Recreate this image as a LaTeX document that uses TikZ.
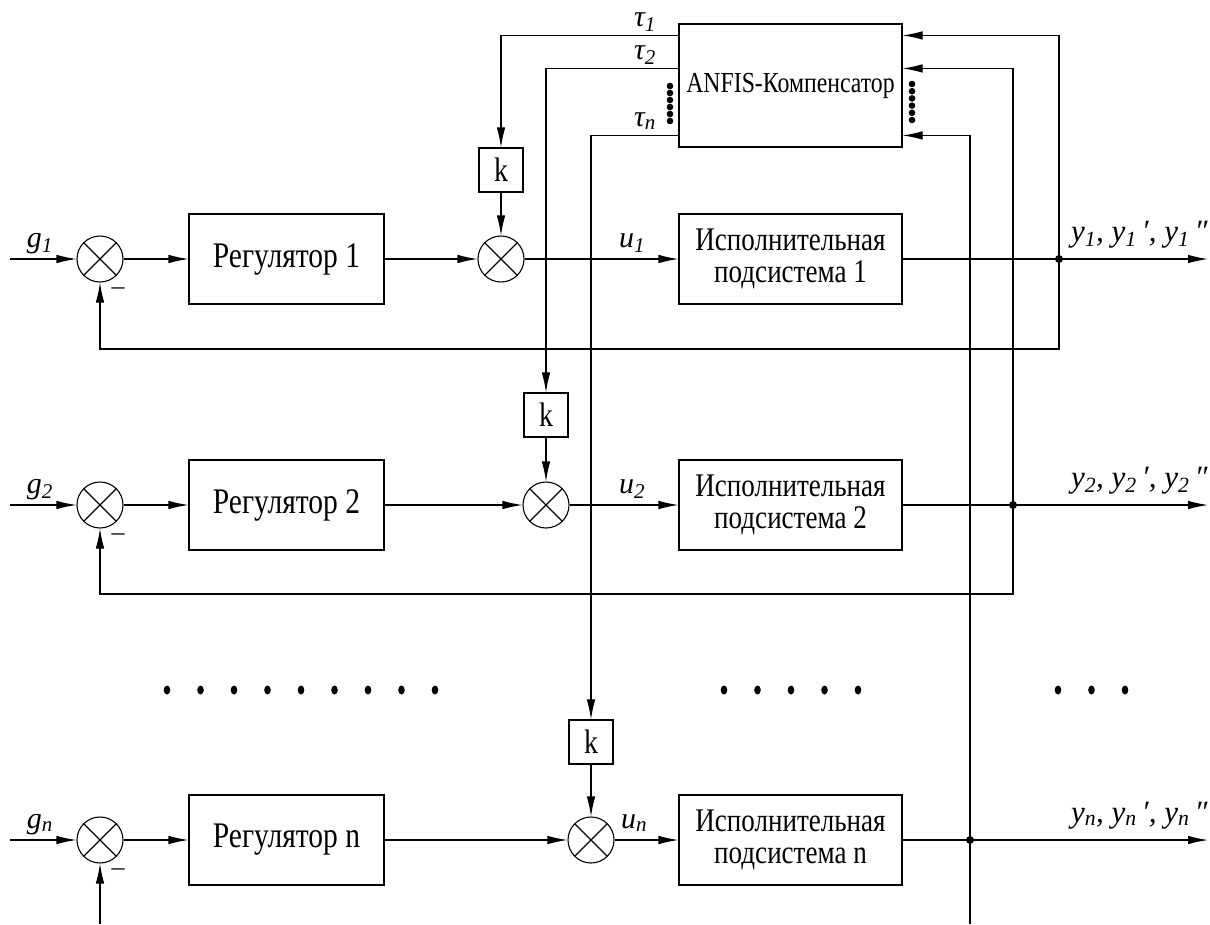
\documentclass[tikz,border=0pt]{standalone}
\usepackage{fontspec}
\setmainfont[FakeStretch=0.82]{Liberation Serif}
\newfontfamily\lblfont{Liberation Serif}
\usetikzlibrary{positioning, arrows.meta, calc}

\tikzset{
  wire/.style={line width=1.1pt},
  arr/.style={wire, -{Latex[length=20pt,width=8.5pt]}},
  blk/.style={draw, line width=1.1pt, minimum height=90pt, align=center, inner sep=0pt},
  regbox/.style={blk, minimum width=195pt, font=\fontsize{36}{40}\selectfont},
  actbox/.style={blk, minimum width=223pt, font=\fontsize{33}{32}\selectfont},
  kbox/.style={draw, line width=1.1pt, minimum size=44pt, inner sep=0pt, font=\fontsize{34}{34}\selectfont},
  summ/.style={draw, circle, line width=1.1pt, minimum size=46pt, inner sep=0pt,
    path picture={\draw[line width=1.1pt]
      (path picture bounding box.north west) -- (path picture bounding box.south east)
      (path picture bounding box.north east) -- (path picture bounding box.south west);}},
  sig/.style={font=\fontsize{30}{32}\lblfont\itshape, inner sep=0pt, anchor=base},
  outsig/.style={font=\fontsize{31}{32}\lblfont\itshape, inner sep=0pt, anchor=base east, yshift=18pt},
  minus/.style={font=\fontsize{26}{26}\lblfont, inner sep=0pt},
}

\begin{document}
\begin{tikzpicture}[x=1pt, y=-1pt]
\useasboundingbox (0,0) rectangle (1210,924);

% ANFIS compensator
\node[draw, line width=1.1pt, minimum width=223pt, minimum height=123pt, inner sep=0pt,
  font=\fontsize{29}{30}\selectfont] (anfis) at (790.5,85.5) {ANFIS-Компенсатор};
\coordinate (t1) at ([yshift=-12pt]anfis.north west);
\coordinate (t2) at ([yshift=-45pt]anfis.north west);
\coordinate (tn) at ([yshift=-112pt]anfis.north west);
\coordinate (f1) at ([yshift=-12pt]anfis.north east);
\coordinate (f2) at ([yshift=-45pt]anfis.north east);
\coordinate (fn) at ([yshift=-112pt]anfis.north east);
\node[sig] (lt1) at (645,26) {τ\textsubscript{\textit{1}}};
\node[sig] (lt2) at (645,59) {τ\textsubscript{\textit{2}}};
\node[sig] (ltn) at (645,126) {τ\textsubscript{\textit{n}}};
\foreach \i in {0,...,5} {
  \fill (670,86+7*\i) circle (3.3pt);
  \fill (912,84+7.2*\i) circle (3.3pt);
}

% Channel 1
\node[summ] (s1) at (100,259) {};
\node[regbox] (r1) at (286.5,259) {Регулятор 1};
\node[summ] (c1) at (501,259) {};
\node[kbox] (k1) at (501,170) {k};
\node[actbox] (a1) at (790.5,259) {Исполнительная\\подсистема 1};
\coordinate (in1) at (10,259);
\coordinate (j1) at (1059,259);
\coordinate (fb1) at (1059,349);
\coordinate (out1) at (1208,259);
\node[sig] (g1) at (40,247) {g\textsubscript{\textit{1}}};
\node[minus] (m1) at (118,291) {–};
\draw[arr] (in1) -- (s1);
\draw[arr] (s1) -- (r1);
\draw[arr] (r1) -- (c1);
\draw[arr] (c1) -- (a1);
\node[sig] (u1) at (632,247) {u\textsubscript{\textit{1}}};
\draw[arr] (a1) -- (out1) node[outsig] (y1) {y\textsubscript{\textit{1}}, y\textsubscript{\textit{1}}\,′, y\textsubscript{\textit{1}}\,″};
\draw[arr] (k1) -- (c1);
\draw[arr] (t1) -| (k1);
\draw[arr] (j1) -- (fb1) -| (s1);
\draw[arr] (j1) |- (f1);
\fill (j1) circle (4pt);

% Channel 2
\node[summ] (s2) at (100,505) {};
\node[regbox] (r2) at (286.5,505) {Регулятор 2};
\node[summ] (c2) at (546,505) {};
\node[kbox] (k2) at (546,415) {k};
\node[actbox] (a2) at (790.5,505) {Исполнительная\\подсистема 2};
\coordinate (in2) at (10,505);
\coordinate (j2) at (1013,505);
\coordinate (fb2) at (1013,594);
\coordinate (out2) at (1208,505);
\node[sig] (g2) at (40,493) {g\textsubscript{\textit{2}}};
\node[minus] (m2) at (118,537) {–};
\draw[arr] (in2) -- (s2);
\draw[arr] (s2) -- (r2);
\draw[arr] (r2) -- (c2);
\draw[arr] (c2) -- (a2);
\node[sig] (u2) at (632,493) {u\textsubscript{\textit{2}}};
\draw[arr] (a2) -- (out2) node[outsig] (y2) {y\textsubscript{\textit{2}}, y\textsubscript{\textit{2}}\,′, y\textsubscript{\textit{2}}\,″};
\draw[arr] (k2) -- (c2);
\draw[arr] (t2) -| (k2);
\draw[arr] (j2) -- (fb2) -| (s2);
\draw[arr] (j2) |- (f2);
\fill (j2) circle (4pt);

% Channel n
\node[summ] (sn) at (100,840) {};
\node[regbox] (rn) at (286.5,840) {Регулятор n};
\node[summ] (cn) at (591,840) {};
\node[kbox] (kn) at (591,742) {k};
\node[actbox] (an) at (790.5,840) {Исполнительная\\подсистема n};
\coordinate (inn) at (10,840);
\coordinate (jn) at (970,840);
\coordinate (bjn) at (970,924);
\coordinate (bsn) at (100,924);
\coordinate (outn) at (1208,840);
\node[sig] (gn) at (40,828) {g\textsubscript{\textit{n}}};
\node[minus] (mn) at (118,872) {–};
\draw[arr] (inn) -- (sn);
\draw[arr] (sn) -- (rn);
\draw[arr] (rn) -- (cn);
\draw[arr] (cn) -- (an);
\node[sig] (un) at (634,828) {u\textsubscript{\textit{n}}};
\draw[arr] (an) -- (outn) node[outsig] (yn) {y\textsubscript{\textit{n}}, y\textsubscript{\textit{n}}\,′, y\textsubscript{\textit{n}}\,″};
\draw[arr] (kn) -- (cn);
\draw[arr] (tn) -| (kn);
\draw[wire] (bjn) -- (jn);
\draw[arr] (bsn) -- (sn);
\draw[arr] (jn) |- (fn);
\fill (jn) circle (4pt);

% omitted channels
\foreach \i in {0,...,8} \fill (167+33.5*\i,690) ellipse (3.3pt and 4.5pt);
\foreach \i in {0,...,4} \fill (724+33.5*\i,690) ellipse (3.3pt and 4.5pt);
\foreach \i in {0,...,2} \fill (1058+33.5*\i,690) ellipse (3.3pt and 4.5pt);
\end{tikzpicture}
\end{document}
